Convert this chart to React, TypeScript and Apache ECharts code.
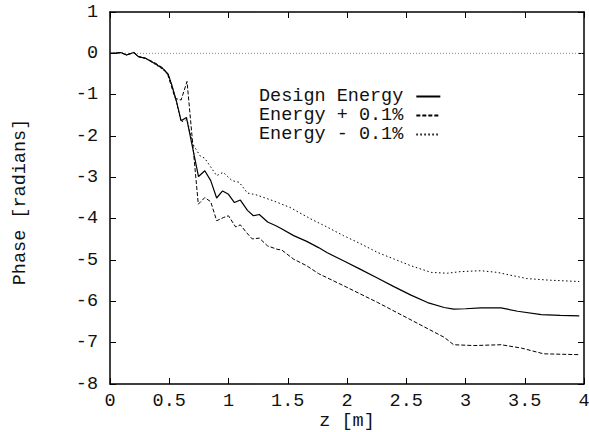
import React, { useEffect, useRef } from "react";
import * as echarts from "echarts";

const designZ = [0, 0.05, 0.09, 0.14, 0.2, 0.24, 0.3, 0.38, 0.45, 0.49, 0.52, 0.56, 0.6, 0.645, 0.747, 0.8, 0.85, 0.9, 0.95, 1.0, 1.05, 1.1, 1.16, 1.21, 1.26, 1.33, 1.4, 1.44, 1.55, 1.66, 1.76, 1.83, 1.97, 2.11, 2.26, 2.4, 2.54, 2.68, 2.82, 2.9, 3.0, 3.13, 3.3, 3.44, 3.64, 3.8, 3.96];
const designPhase = [0, 0.0, 0.02, -0.04, 0.02, -0.08, -0.12, -0.25, -0.38, -0.5, -0.75, -1.15, -1.63, -1.55, -2.98, -2.84, -3.08, -3.5, -3.33, -3.41, -3.61, -3.55, -3.8, -3.93, -3.9, -4.08, -4.17, -4.23, -4.41, -4.55, -4.7, -4.82, -5.02, -5.22, -5.44, -5.65, -5.85, -6.03, -6.15, -6.19, -6.18, -6.16, -6.16, -6.24, -6.32, -6.34, -6.35];

const plusZ = [0, 0.09, 0.14, 0.2, 0.24, 0.3, 0.38, 0.45, 0.49, 0.55, 0.6, 0.65, 0.745, 0.8, 0.85, 0.9, 0.96, 1.0, 1.06, 1.1, 1.15, 1.2, 1.26, 1.33, 1.41, 1.45, 1.55, 1.66, 1.76, 1.97, 2.26, 2.54, 2.82, 2.9, 3.07, 3.3, 3.47, 3.66, 3.96];
const plusPhase = [0, 0.02, -0.04, 0.02, -0.08, -0.12, -0.23, -0.36, -0.54, -1.09, -1.13, -0.68, -3.65, -3.49, -3.59, -4.05, -3.97, -3.93, -4.2, -4.15, -4.33, -4.49, -4.47, -4.66, -4.74, -4.76, -4.98, -5.14, -5.33, -5.62, -6.03, -6.45, -6.87, -7.05, -7.07, -7.05, -7.13, -7.27, -7.29];

const minusZ = [0, 0.09, 0.14, 0.2, 0.24, 0.3, 0.38, 0.45, 0.49, 0.52, 0.56, 0.6, 0.65, 0.7, 0.76, 0.8, 0.9, 0.955, 1.03, 1.09, 1.16, 1.23, 1.38, 1.52, 1.69, 1.83, 1.97, 2.11, 2.26, 2.4, 2.54, 2.71, 2.85, 2.96, 3.13, 3.27, 3.4, 3.52, 3.72, 3.96];
const minusPhase = [0, 0.02, -0.04, 0.02, -0.08, -0.12, -0.26, -0.4, -0.52, -0.76, -1.17, -1.66, -1.6, -2.2, -2.48, -2.54, -2.96, -2.88, -3.08, -3.12, -3.38, -3.42, -3.57, -3.73, -4.0, -4.2, -4.41, -4.6, -4.82, -4.98, -5.14, -5.3, -5.32, -5.28, -5.26, -5.3, -5.38, -5.45, -5.49, -5.52];

const zeroZ = [0, 4];
const zeroPhase = [0, 0];

const seriesNames = ["Design Energy", "Energy + 0.1%", "Energy - 0.1%"];

const FONT = "Liberation Mono";
const FS = 18.5;

function pairs(xs: number[], ys: number[]) {
  return xs.map((x, i) => [x, ys[i]]);
}

export default function App() {
  const ref = useRef<HTMLDivElement>(null);
  useEffect(() => {
    if (!ref.current) return;
    const chart = echarts.init(ref.current, null, { renderer: "svg" });
    const axisLine = { show: true, onZero: false, lineStyle: { color: "#000", width: 1.5 } };
    const tickIn = { show: true, inside: true, length: 6, lineStyle: { color: "#000", width: 1 } };
    const labelStyle = { color: "#111", fontFamily: FONT, fontSize: FS };
    chart.setOption({
      animation: false,
      backgroundColor: "#fff",
      grid: { left: 110, right: 5, top: 12, bottom: 48, containLabel: false, outerBoundsMode: "none" },
      legend: {
        orient: "vertical",
        left: 259,
        top: 87,
        padding: 0,
        itemGap: 0,
        itemWidth: 24,
        itemHeight: 18.5,
        align: "right",
        data: seriesNames,
        itemStyle: { opacity: 0, borderWidth: 0 },
        textStyle: { color: "#111", fontFamily: FONT, fontSize: FS, padding: [0, 8, 0, 0] },
      },
      xAxis: [
        {
          type: "value",
          min: 0,
          max: 4,
          interval: 0.5,
          name: "z [m]",
          nameLocation: "middle",
          nameGap: 28,
          nameMoveOverlap: false,
          nameTextStyle: labelStyle,
          axisLine,
          axisTick: tickIn,
          axisLabel: { ...labelStyle, margin: 8 },
          splitLine: { show: false },
        },
        {
          type: "value",
          position: "top",
          min: 0,
          max: 4,
          interval: 0.5,
          axisLine,
          axisTick: tickIn,
          axisLabel: { show: false },
          splitLine: { show: false },
        },
      ],
      yAxis: [
        {
          type: "value",
          min: -8,
          max: 1,
          interval: 1,
          name: "Phase [radians]",
          nameLocation: "middle",
          nameGap: 80,
          nameMoveOverlap: false,
          nameTextStyle: { ...labelStyle, padding: [0, 8, 0, 0] },
          axisLine,
          axisTick: tickIn,
          axisLabel: { ...labelStyle, margin: 12 },
          splitLine: { show: false },
        },
        {
          type: "value",
          position: "right",
          min: -8,
          max: 1,
          interval: 1,
          axisLine,
          axisTick: tickIn,
          axisLabel: { show: false },
          splitLine: { show: false },
        },
      ],
      series: [
        {
          name: "zero",
          type: "line",
          data: pairs(zeroZ, zeroPhase),
          symbol: "none",
          silent: true,
          lineStyle: { color: "#888", width: 1, type: [1, 2] },
          z: 1,
        },
        {
          name: seriesNames[0],
          type: "line",
          data: pairs(designZ, designPhase),
          symbol: "none",
          lineStyle: { color: "#000", width: 1.2, type: "solid" },
          itemStyle: { color: "#000" },
          z: 3,
        },
        {
          name: seriesNames[1],
          type: "line",
          data: pairs(plusZ, plusPhase),
          symbol: "none",
          lineStyle: { color: "#000", width: 1, type: [4, 2] },
          itemStyle: { color: "#000" },
          z: 2,
        },
        {
          name: seriesNames[2],
          type: "line",
          data: pairs(minusZ, minusPhase),
          symbol: "none",
          lineStyle: { color: "#000", width: 1, type: [1.5, 2.5] },
          itemStyle: { color: "#000" },
          z: 2,
        },
      ],
    });
    return () => chart.dispose();
  }, []);
  return (
    <div
      ref={ref}
      style={{ position: "fixed", left: 0, top: 0, width: 589, height: 432, background: "#fff" }}
    />
  );
}
